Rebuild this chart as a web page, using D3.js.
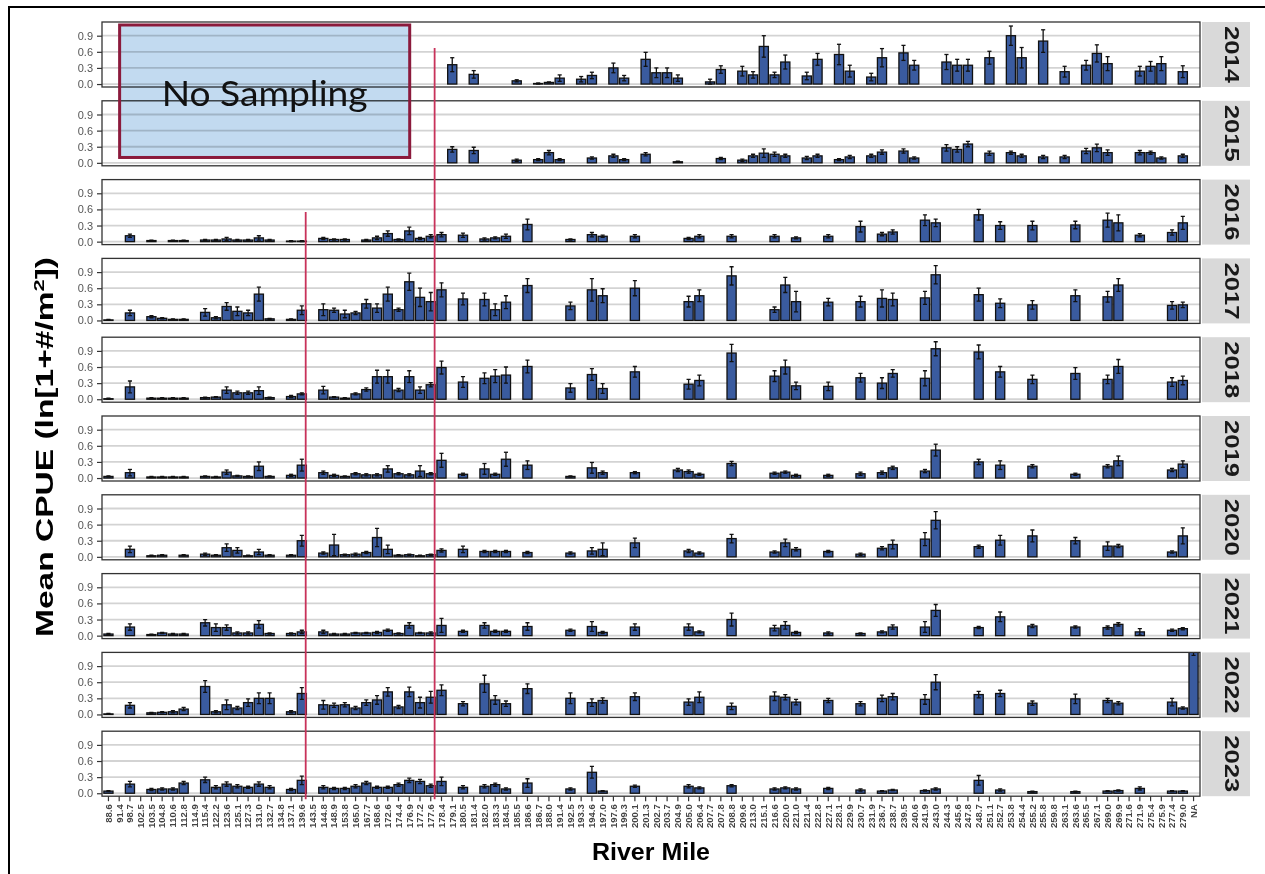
<!DOCTYPE html>
<html>
<head>
<meta charset="utf-8">
<script src="https://cdn.jsdelivr.net/npm/d3@7"></script>
<style>
  body { margin: 0; background: #fff; }
  svg { display: block; }
</style>
</head>
<body>
<svg id="chart" width="1265" height="874"></svg>
<script>
// River-mile sampling sites, upstream order (NA = site without a river mile)
const riverMiles = ["88.6","91.4","98.7","102.5","103.5","104.8","110.6","112.8","114.9","115.4",
  "122.2","123.6","125.1","127.3","131.0","132.7","134.8","137.1","139.6","143.5",
  "144.8","148.9","153.8","165.0","167.7","168.6","172.6","174.4","176.9","177.2",
  "177.6","178.4","179.1","180.5","181.4","182.0","183.3","184.5","185.5","186.6",
  "186.7","188.0","191.4","192.5","193.3","194.6","197.0","197.6","199.3","200.1",
  "201.3","202.7","203.7","204.9","205.0","206.4","207.7","207.8","208.8","209.6",
  "213.0","215.1","216.6","220.0","221.0","221.4","222.8","227.1","228.1","229.9",
  "230.7","231.9","236.7","238.7","239.5","240.6","241.9","243.0","244.3","245.6",
  "247.8","248.7","251.1","252.7","253.8","254.4","255.2","255.8","259.8","263.1",
  "263.6","265.5","267.1","269.0","269.9","271.6","271.9","275.4","275.9","277.4",
  "279.0","NA"];

const years = ["2014","2015","2016","2017","2018","2019","2020","2021","2022","2023"];
const yTicks = [0, 0.3, 0.6, 0.9];

// Each entry: [site index in riverMiles, mean CPUE, standard error]
const cpue2014 = [[32,.36,.13],[34,.18,.07],[38,.06,.02],[40,.01,.01],[41,.03,.01],[42,.11,.06],[44,.09,.05],[45,.16,.06],[47,.30,.09],[48,.11,.05],[50,.46,.13],[51,.21,.09],[52,.21,.09],[53,.11,.06],[56,.04,.05],[57,.27,.07],[59,.24,.09],[60,.17,.06],[61,.70,.20],[62,.17,.05],[63,.41,.13],[65,.15,.07],[66,.46,.11],[68,.55,.19],[69,.24,.11],[71,.13,.07],[72,.49,.17],[74,.58,.14],[75,.35,.09],[78,.41,.14],[79,.35,.11],[80,.35,.11],[82,.49,.12],[84,.90,.18],[85,.49,.19],[87,.80,.21],[89,.23,.10],[91,.35,.09],[92,.57,.16],[93,.38,.13],[96,.24,.09],[97,.33,.09],[98,.38,.13],[100,.23,.11]];
const cpue2015 = [[32,.25,.05],[34,.23,.06],[38,.05,.02],[40,.06,.02],[41,.19,.04],[42,.06,.02],[45,.09,.02],[47,.13,.03],[48,.06,.02],[50,.16,.03],[53,.02,.01],[57,.08,.02],[59,.05,.02],[60,.13,.03],[61,.18,.08],[62,.16,.04],[63,.13,.03],[65,.09,.03],[66,.13,.03],[68,.06,.02],[69,.11,.03],[71,.13,.03],[72,.20,.04],[74,.22,.04],[75,.09,.02],[78,.28,.06],[79,.25,.05],[80,.35,.05],[82,.18,.04],[84,.19,.03],[85,.13,.03],[87,.11,.03],[89,.11,.03],[91,.22,.05],[92,.28,.07],[93,.19,.05],[96,.19,.04],[97,.19,.03],[98,.09,.02],[100,.13,.03]];
const cpue2016 = [[2,.11,.03],[4,.02,.01],[6,.02,.01],[7,.02,.01],[9,.03,.01],[10,.03,.01],[11,.05,.03],[12,.03,.01],[13,.03,.01],[14,.07,.04],[15,.03,.01],[17,.01,.01],[18,.01,.01],[20,.06,.02],[21,.04,.01],[22,.04,.01],[24,.03,.01],[25,.07,.03],[26,.15,.05],[27,.04,.01],[28,.20,.07],[29,.06,.02],[30,.10,.03],[31,.13,.04],[33,.12,.04],[35,.05,.02],[36,.07,.02],[37,.10,.04],[39,.32,.10],[43,.04,.01],[45,.13,.04],[46,.10,.02],[49,.10,.03],[54,.06,.02],[55,.10,.03],[58,.10,.03],[62,.10,.03],[64,.07,.02],[67,.10,.03],[70,.28,.10],[72,.14,.03],[73,.18,.04],[76,.40,.10],[77,.35,.07],[81,.50,.10],[83,.30,.07],[86,.30,.08],[90,.31,.07],[93,.40,.13],[94,.35,.15],[96,.12,.03],[99,.17,.05],[100,.35,.12]];
const cpue2017 = [[0,.01,.01],[2,.14,.05],[4,.07,.02],[5,.04,.01],[6,.02,.01],[7,.02,.01],[9,.15,.07],[10,.05,.02],[11,.26,.07],[12,.17,.08],[13,.14,.05],[14,.49,.13],[15,.03,.01],[17,.02,.01],[18,.19,.08],[20,.20,.11],[21,.19,.04],[22,.12,.07],[23,.14,.03],[24,.31,.08],[25,.23,.08],[26,.49,.13],[27,.20,.03],[28,.72,.16],[29,.43,.17],[30,.35,.17],[31,.57,.13],[33,.40,.11],[35,.39,.12],[36,.20,.11],[37,.34,.12],[39,.65,.13],[43,.27,.07],[45,.57,.21],[46,.46,.13],[49,.60,.14],[54,.35,.10],[55,.46,.11],[58,.83,.17],[62,.20,.05],[63,.66,.14],[64,.35,.19],[67,.34,.07],[70,.35,.10],[72,.41,.16],[73,.39,.12],[76,.42,.12],[77,.85,.17],[81,.48,.12],[83,.32,.08],[86,.29,.08],[90,.46,.11],[93,.44,.10],[94,.66,.12],[99,.28,.07],[100,.29,.05]];
const cpue2018 = [[0,.01,.01],[2,.23,.11],[4,.02,.01],[5,.02,.01],[6,.02,.01],[7,.02,.01],[9,.03,.01],[10,.04,.01],[11,.17,.06],[12,.12,.03],[13,.12,.03],[14,.16,.07],[15,.03,.01],[17,.05,.02],[18,.10,.02],[20,.17,.07],[21,.04,.01],[22,.02,.01],[23,.10,.02],[24,.18,.03],[25,.42,.12],[26,.42,.12],[27,.17,.03],[28,.42,.11],[29,.17,.06],[30,.27,.04],[31,.59,.12],[33,.32,.10],[35,.39,.10],[36,.43,.12],[37,.45,.15],[39,.61,.12],[43,.21,.08],[45,.46,.11],[46,.20,.09],[49,.51,.10],[54,.28,.09],[55,.35,.10],[58,.86,.16],[62,.43,.10],[63,.60,.13],[64,.25,.07],[67,.24,.08],[70,.40,.08],[72,.30,.10],[73,.48,.07],[76,.39,.14],[77,.94,.13],[81,.88,.13],[83,.51,.10],[86,.37,.08],[90,.48,.11],[93,.37,.08],[94,.61,.13],[99,.32,.08],[100,.35,.08]];
const cpue2019 = [[0,.03,.01],[2,.10,.06],[4,.02,.01],[5,.02,.01],[6,.02,.01],[7,.02,.01],[9,.03,.01],[10,.02,.01],[11,.11,.04],[12,.04,.01],[13,.03,.01],[14,.22,.08],[15,.03,.01],[17,.05,.02],[18,.24,.11],[20,.10,.03],[21,.05,.02],[22,.03,.01],[23,.08,.02],[24,.06,.02],[25,.06,.02],[26,.17,.06],[27,.08,.02],[28,.06,.02],[29,.13,.10],[30,.08,.02],[31,.33,.13],[33,.07,.02],[35,.17,.10],[36,.07,.02],[37,.35,.13],[39,.24,.08],[43,.03,.01],[45,.19,.10],[46,.10,.03],[49,.10,.02],[53,.15,.03],[54,.12,.03],[55,.07,.02],[58,.27,.04],[62,.09,.02],[63,.11,.02],[64,.05,.02],[67,.05,.02],[70,.08,.03],[72,.10,.03],[73,.19,.03],[76,.13,.03],[77,.52,.11],[81,.30,.05],[83,.24,.08],[86,.22,.03],[90,.07,.02],[93,.22,.03],[94,.32,.09],[99,.15,.03],[100,.26,.06]];
const cpue2020 = [[2,.14,.06],[4,.02,.01],[5,.03,.01],[7,.03,.01],[9,.05,.02],[10,.03,.01],[11,.17,.07],[12,.12,.05],[13,.02,.01],[14,.09,.05],[15,.03,.01],[17,.03,.01],[18,.30,.10],[20,.07,.02],[21,.22,.20],[22,.04,.01],[23,.05,.02],[24,.08,.02],[25,.36,.17],[26,.14,.08],[27,.03,.01],[28,.04,.01],[29,.02,.01],[30,.04,.01],[31,.12,.03],[33,.14,.06],[35,.10,.02],[36,.10,.02],[37,.10,.02],[39,.08,.02],[43,.07,.02],[45,.11,.06],[46,.14,.12],[49,.26,.09],[54,.11,.03],[55,.07,.02],[58,.34,.08],[62,.09,.02],[63,.26,.07],[64,.14,.03],[67,.10,.02],[70,.05,.02],[72,.16,.03],[73,.23,.08],[76,.33,.12],[77,.68,.16],[81,.19,.03],[83,.31,.09],[86,.39,.11],[90,.30,.06],[93,.20,.08],[94,.20,.03],[99,.09,.02],[100,.39,.15]];
const cpue2021 = [[0,.03,.01],[2,.16,.06],[4,.02,.01],[5,.05,.01],[6,.03,.01],[7,.03,.01],[9,.24,.06],[10,.15,.07],[11,.15,.05],[12,.05,.02],[13,.05,.02],[14,.21,.07],[15,.04,.01],[17,.04,.01],[18,.07,.03],[20,.07,.03],[21,.03,.01],[22,.03,.01],[23,.05,.01],[24,.05,.01],[25,.06,.02],[26,.10,.02],[27,.04,.01],[28,.19,.05],[29,.05,.01],[30,.05,.02],[31,.19,.13],[33,.08,.02],[35,.19,.05],[36,.08,.02],[37,.08,.02],[39,.17,.07],[43,.10,.02],[45,.17,.09],[46,.06,.02],[49,.16,.06],[54,.16,.06],[55,.07,.02],[58,.30,.12],[62,.14,.05],[63,.19,.07],[64,.06,.02],[67,.05,.02],[70,.04,.01],[72,.07,.02],[73,.16,.04],[76,.16,.10],[77,.47,.11],[81,.15,.02],[83,.35,.09],[86,.18,.03],[90,.16,.02],[93,.15,.03],[94,.21,.03],[96,.07,.06],[99,.10,.02],[100,.13,.02]];
const cpue2022 = [[0,.01,.01],[2,.17,.05],[4,.03,.01],[5,.04,.01],[6,.05,.02],[7,.10,.03],[9,.52,.11],[10,.05,.02],[11,.18,.09],[12,.12,.03],[13,.22,.07],[14,.30,.10],[15,.30,.10],[17,.05,.02],[18,.39,.11],[20,.18,.08],[21,.17,.04],[22,.18,.04],[23,.12,.03],[24,.22,.05],[25,.27,.08],[26,.42,.08],[27,.14,.03],[28,.42,.09],[29,.22,.10],[30,.32,.11],[31,.45,.10],[33,.20,.04],[35,.57,.16],[36,.27,.08],[37,.20,.05],[39,.48,.09],[43,.30,.10],[45,.22,.07],[46,.26,.05],[49,.33,.07],[54,.23,.06],[55,.32,.10],[58,.15,.06],[62,.34,.08],[63,.32,.05],[64,.23,.05],[67,.26,.04],[70,.20,.04],[72,.30,.06],[73,.33,.06],[76,.28,.09],[77,.60,.14],[81,.37,.06],[83,.39,.06],[86,.21,.04],[90,.29,.09],[93,.26,.04],[94,.21,.03],[99,.23,.07],[100,.12,.02],[101,1.50,.40]];
const cpue2023 = [[0,.04,.01],[2,.17,.05],[4,.07,.02],[5,.08,.02],[6,.08,.02],[7,.19,.03],[9,.25,.05],[10,.11,.03],[11,.17,.04],[12,.13,.03],[13,.11,.02],[14,.17,.04],[15,.11,.03],[17,.07,.02],[18,.24,.08],[20,.11,.03],[21,.09,.02],[22,.09,.02],[23,.13,.03],[24,.19,.03],[25,.11,.02],[26,.11,.02],[27,.16,.03],[28,.24,.04],[29,.22,.04],[30,.14,.03],[31,.22,.08],[33,.11,.03],[35,.13,.03],[36,.16,.03],[37,.08,.02],[39,.19,.08],[43,.08,.02],[45,.39,.11],[46,.04,.01],[49,.13,.02],[54,.13,.03],[55,.10,.02],[58,.14,.02],[62,.08,.02],[63,.10,.02],[64,.08,.02],[67,.09,.02],[70,.06,.02],[72,.04,.01],[73,.06,.01],[76,.05,.01],[77,.08,.02],[81,.24,.09],[83,.06,.02],[86,.03,.01],[90,.03,.01],[93,.04,.01],[94,.05,.01],[96,.09,.03],[99,.04,.01],[100,.04,.01]];

const cpueByYear = {
  "2014": cpue2014, "2015": cpue2015, "2016": cpue2016, "2017": cpue2017, "2018": cpue2018,
  "2019": cpue2019, "2020": cpue2020, "2021": cpue2021, "2022": cpue2022, "2023": cpue2023
};

// ---- layout ----
const panelLeft = 102, panelRight = 1200;
const firstTop = 22, panelH = 65, panelGap = 13.8;
const stripX = 1202, stripW = 48;
const barFill = "#3a5b9f";
const font = "'Liberation Sans', Arial, Helvetica, sans-serif";

const svg = d3.select("#chart");
svg.append("rect").attr("width", 1265).attr("height", 874).attr("fill", "#fff");

// outer frame
svg.append("path")
  .attr("d", "M9,874V7H1265")
  .attr("fill", "none").attr("stroke", "#000").attr("stroke-width", 2);

const x = d3.scaleBand()
  .domain(riverMiles)
  .range([panelLeft, panelRight])
  .paddingInner(0.15)
  .paddingOuter(0.175);

const panelTop = k => firstTop + k * (panelH + panelGap);
const yFor = k => d3.scaleLinear().domain([-0.055, 1.155]).range([panelTop(k) + panelH, panelTop(k)]);

const defs = svg.append("defs");

years.forEach((yr, k) => {
  const top = panelTop(k);
  const y = yFor(k);
  const g = svg.append("g").attr("class", "panel");

  defs.append("clipPath").attr("id", "clip" + yr)
    .append("rect").attr("x", panelLeft).attr("y", top).attr("width", panelRight - panelLeft).attr("height", panelH);

  g.append("rect")
    .attr("x", panelLeft).attr("y", top)
    .attr("width", panelRight - panelLeft).attr("height", panelH)
    .attr("fill", "#fff");

  // horizontal grid
  g.selectAll("line.grid").data(yTicks).join("line")
    .attr("class", "grid")
    .attr("x1", panelLeft).attr("x2", panelRight)
    .attr("y1", d => y(d)).attr("y2", d => y(d))
    .attr("stroke", "#d3d3d3").attr("stroke-width", 1.8);

  const plot = g.append("g").attr("clip-path", `url(#clip${yr})`);
  const rows = cpueByYear[yr].map(([i, m, se]) => ({ site: riverMiles[i], m, se }));

  plot.selectAll("rect.bar").data(rows).join("rect")
    .attr("class", "bar")
    .attr("x", d => x(d.site))
    .attr("width", x.bandwidth())
    .attr("y", d => y(d.m))
    .attr("height", d => y(0) - y(d.m))
    .attr("fill", barFill)
    .attr("stroke", "#111").attr("stroke-width", 1.3);

  // error bars (mean ± SE)
  const capW = x.bandwidth() * 0.45;
  const cx = d => x(d.site) + x.bandwidth() / 2;
  const eb = plot.selectAll("g.err").data(rows).join("g").attr("class", "err")
    .attr("stroke", "#111").attr("stroke-width", 1.3);
  eb.append("line")
    .attr("x1", cx).attr("x2", cx)
    .attr("y1", d => y(Math.max(0, d.m - d.se))).attr("y2", d => y(d.m + d.se));
  eb.append("line")
    .attr("x1", d => cx(d) - capW / 2).attr("x2", d => cx(d) + capW / 2)
    .attr("y1", d => y(d.m + d.se)).attr("y2", d => y(d.m + d.se));
  eb.append("line")
    .attr("x1", d => cx(d) - capW / 2).attr("x2", d => cx(d) + capW / 2)
    .attr("y1", d => y(Math.max(0, d.m - d.se))).attr("y2", d => y(Math.max(0, d.m - d.se)));

  // panel border
  g.append("rect")
    .attr("x", panelLeft).attr("y", top)
    .attr("width", panelRight - panelLeft).attr("height", panelH)
    .attr("fill", "none").attr("stroke", "#333").attr("stroke-width", 1.3);

  // y axis
  const yAxis = g.append("g").attr("transform", `translate(${panelLeft},0)`)
    .call(d3.axisLeft(y).tickValues(yTicks).tickFormat(d3.format(".1f")).tickSize(5).tickPadding(4));
  yAxis.select(".domain").remove();
  yAxis.selectAll(".tick line").attr("stroke", "#333").attr("stroke-width", 1.2);
  yAxis.selectAll(".tick text").attr("fill", "#555").style("font", `11px ${font}`);

  // facet strip
  g.append("rect")
    .attr("x", stripX).attr("y", top).attr("width", stripW).attr("height", panelH)
    .attr("fill", "#d9d9d9");
  g.append("text")
    .attr("transform", `translate(${stripX + stripW / 2 - 1},${top + panelH / 2}) rotate(90)`)
    .attr("text-anchor", "middle")
    .attr("textLength", 57).attr("lengthAdjust", "spacingAndGlyphs")
    .attr("fill", "#1a1a1a")
    .style("font", `bold 20px ${font}`)
    .text(yr);
});

// bottom x axis
const lastBottom = panelTop(years.length - 1) + panelH;
const xAxis = svg.append("g").attr("transform", `translate(0,${lastBottom})`)
  .call(d3.axisBottom(x).tickSize(5).tickPadding(3));
xAxis.select(".domain").remove();
xAxis.selectAll(".tick line").attr("stroke", "#333").attr("stroke-width", 1.2);
xAxis.selectAll(".tick text")
  .attr("transform", "rotate(-90)")
  .attr("text-anchor", "end")
  .attr("x", -8).attr("y", 0).attr("dy", "0.35em")
  .attr("fill", "#444")
  .style("font", `bold 9.5px ${font}`);

// segment boundaries
const boundary = i => x(riverMiles[i]) + x.bandwidth() + (x.step() - x.bandwidth()) / 2;
const segLines = [
  { after: 18, fromYear: 2, fromValue: 0.55 },
  { after: 30, fromYear: 0, fromValue: 0.67 }
];
svg.selectAll("line.seg").data(segLines).join("line")
  .attr("class", "seg")
  .attr("x1", d => boundary(d.after) - 1.5).attr("x2", d => boundary(d.after) - 1.5)
  .attr("y1", d => yFor(d.fromYear)(d.fromValue)).attr("y2", lastBottom + 3)
  .attr("stroke", "#c8325a").attr("stroke-width", 1.8);

// "No Sampling" block over the first two years, upstream sites
const ns = svg.append("g");
const nsX0 = x(riverMiles[1]) + 5, nsX1 = x(riverMiles[28]) + 5;
const nsY0 = panelTop(0) + 3, nsY1 = yFor(1)(0.1);
ns.append("rect")
  .attr("x", nsX0).attr("y", nsY0).attr("width", nsX1 - nsX0).attr("height", nsY1 - nsY0)
  .attr("fill", "#c2daf0").style("mix-blend-mode", "multiply");
ns.append("rect")
  .attr("x", nsX0).attr("y", nsY0).attr("width", nsX1 - nsX0).attr("height", nsY1 - nsY0)
  .attr("fill", "none").attr("stroke", "#8b1a3c").attr("stroke-width", 3);
ns.append("text")
  .attr("x", (nsX0 + nsX1) / 2).attr("y", 106)
  .attr("text-anchor", "middle")
  .attr("textLength", 206).attr("lengthAdjust", "spacingAndGlyphs")
  .attr("fill", "#111")
  .style("font", "34px Lato, 'Open Sans', sans-serif")
  .text("No Sampling");

// axis titles
svg.append("text")
  .attr("x", 651).attr("y", 860)
  .attr("text-anchor", "middle")
  .attr("textLength", 118).attr("lengthAdjust", "spacingAndGlyphs")
  .style("font", `bold 24px ${font}`)
  .text("River Mile");

const yt = svg.append("text")
  .attr("transform", "translate(53,447) rotate(-90)")
  .attr("text-anchor", "middle")
  .attr("textLength", 380).attr("lengthAdjust", "spacingAndGlyphs")
  .style("font", `bold 23px ${font}`);
yt.append("tspan").text("Mean CPUE (ln[1+#/m");
yt.append("tspan").attr("dy", -9).style("font-size", "15px").text("2");
yt.append("tspan").attr("dy", 9).text("])");
</script>
</body>
</html>
